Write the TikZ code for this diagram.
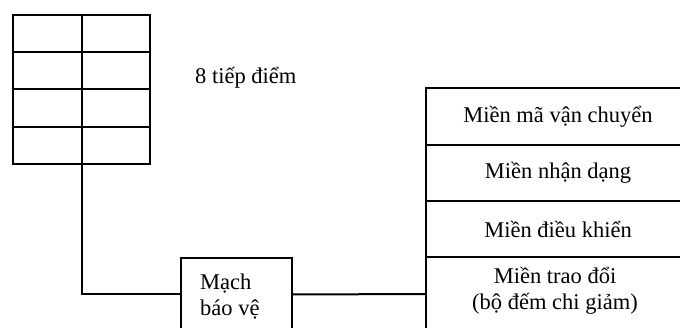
\documentclass[tikz,border=0pt]{standalone}
\usepackage{fontspec}
\setmainfont{Liberation Serif}
\begin{document}
\begin{tikzpicture}[x=1pt,y=-1pt,
  ln/.style={line width=2pt},
  cell/.style={draw,line width=2pt,minimum width=68.5pt,minimum height=37.25pt,anchor=north west,inner sep=0pt,outer sep=0pt},
  zone/.style={draw,line width=2pt,minimum width=264pt,anchor=north west,inner sep=0pt,outer sep=0pt,align=center,font=\fontsize{22.5}{26}\selectfont},
  lbl/.style={font=\fontsize{22.5}{26}\selectfont,inner sep=0pt}]
\useasboundingbox (0,0) rectangle (680,328);
\clip (0,0) rectangle (680,328);
% contact grid
\foreach \r [evaluate=\r as \yy using 15+(\r-1)*37.25] in {1,2,3,4}{
  \node[cell] (c\r1) at (13,\yy) {};
  \node[cell] (c\r2) at (81.5,\yy) {};
}
\node[lbl,anchor=base west] (lab) at (195,84) {8 tiếp điểm};
% protection circuit
\node[draw,line width=2pt,minimum width=111pt,minimum height=73pt,anchor=north west,inner sep=0pt,outer sep=0pt] (mach) at (181,258) {};
\node[lbl,anchor=north west,align=left] (machtxt) at (200,274) {Mạch\\báo vệ};
% memory zones
\node[zone,minimum height=57pt] (r1) at (426,88) {Miền mã vận chuyển};
\node[zone,minimum height=56pt] (r2) at (426,145) {Miền nhận dạng};
\node[zone,minimum height=56pt] (r3) at (426,201) {Miền điều khiển};
\node[zone,minimum height=74pt] (r4) at (426,257) {};
\node[lbl,align=center,anchor=north] (r4txt) at (555,267) {Miền trao đổi\\(bộ đếm chi giảm)};
% connectors
\draw[ln] (c41.south east) |- (mach.west);
\draw[ln] (mach.east) -- (r4.west);
\end{tikzpicture}
\end{document}
